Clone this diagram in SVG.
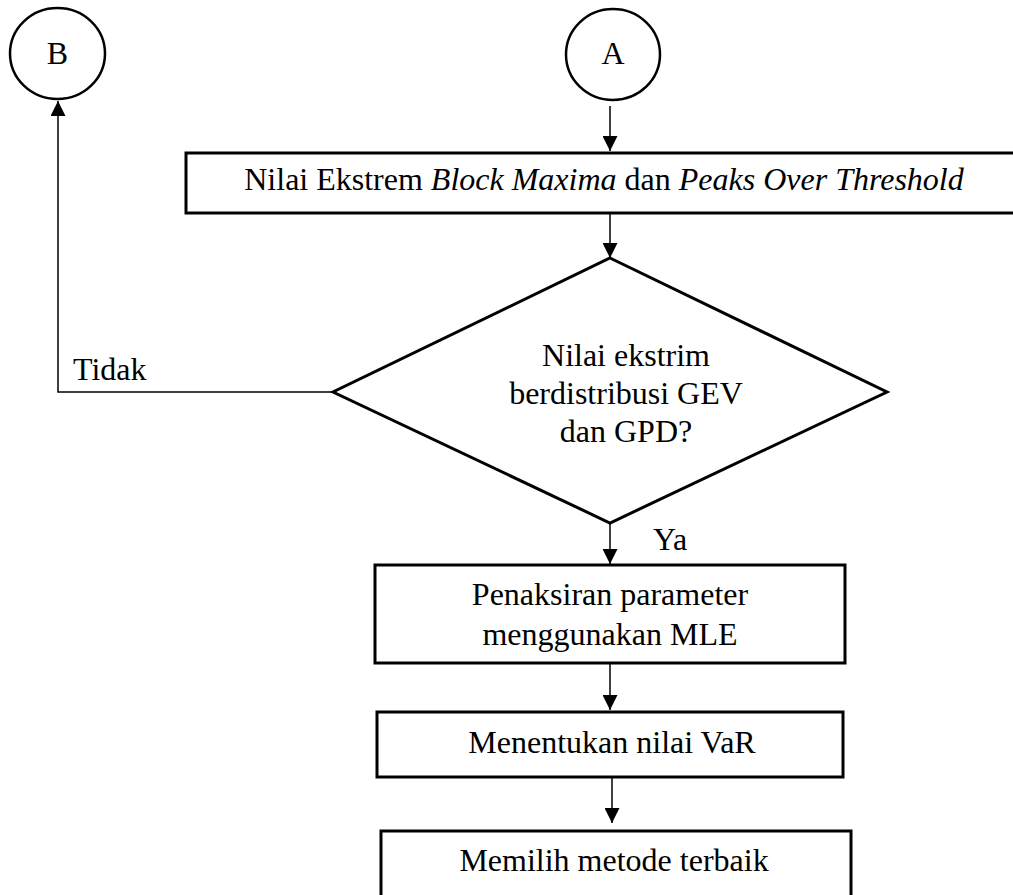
<svg xmlns="http://www.w3.org/2000/svg" width="1013" height="895" viewBox="0 0 1013 895">
<style>
.box{fill:#fff;stroke:#000;stroke-width:3}
.circ{fill:#fff;stroke:#000;stroke-width:2.5}
.conn{fill:none;stroke:#000;stroke-width:1.5}
text{font-family:"Liberation Serif","Times New Roman",serif;font-size:32px;fill:#000}
.c{text-anchor:middle}
</style>
<defs>
<marker id="ah" viewBox="0 0 15 15" refX="15" refY="7.5" markerWidth="15" markerHeight="15" markerUnits="userSpaceOnUse" orient="auto">
<path d="M0,0 L15,7.5 L0,15 Z" fill="#000"/>
</marker>
</defs>
<g id="connectors">
<line class="conn" x1="610" y1="106" x2="610" y2="151" marker-end="url(#ah)"/>
<line class="conn" x1="610" y1="213" x2="610" y2="258" marker-end="url(#ah)"/>
<polyline class="conn" points="333,392 58,392 58,101" marker-end="url(#ah)"/>
<line class="conn" x1="610" y1="523" x2="610" y2="564" marker-end="url(#ah)"/>
<line class="conn" x1="610" y1="663" x2="610" y2="710" marker-end="url(#ah)"/>
<line class="conn" x1="612" y1="777" x2="612" y2="823" marker-end="url(#ah)"/>
<text x="73" y="380">Tidak</text>
<text x="653" y="550">Ya</text>
</g>
<g id="nodeB">
<ellipse class="circ" cx="57.5" cy="53.5" rx="47.5" ry="45.5"/>
<text class="c" x="57.5" y="64">B</text>
</g>
<g id="nodeA">
<ellipse class="circ" cx="613" cy="54.5" rx="47" ry="45.5"/>
<text class="c" x="613" y="64">A</text>
</g>
<g id="box1">
<rect class="box" x="186" y="153" width="840" height="60"/>
<text class="c" x="604" y="190">Nilai Ekstrem <tspan font-style="italic">Block Maxima</tspan> dan <tspan font-style="italic">Peaks Over Threshold</tspan></text>
</g>
<g id="decision">
<polygon class="box" points="610,258 887,392 610,523 333,392"/>
<text class="c" x="626" y="366">Nilai ekstrim</text>
<text class="c" x="626" y="404">berdistribusi GEV</text>
<text class="c" x="626" y="442">dan GPD?</text>
</g>
<g id="box2">
<rect class="box" x="375" y="565" width="470" height="98"/>
<text class="c" x="610" y="605">Penaksiran parameter</text>
<text class="c" x="610" y="645">menggunakan MLE</text>
</g>
<g id="box3">
<rect class="box" x="377" y="712" width="466" height="65"/>
<text class="c" x="612" y="753">Menentukan nilai VaR</text>
</g>
<g id="box4">
<rect class="box" x="381" y="831" width="470" height="80"/>
<text class="c" x="614" y="871">Memilih metode terbaik</text>
</g>
</svg>
